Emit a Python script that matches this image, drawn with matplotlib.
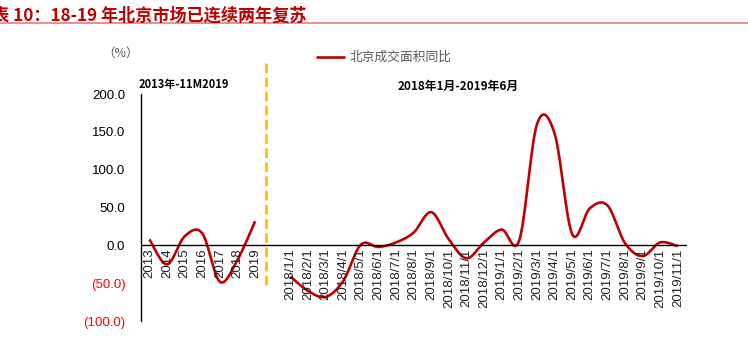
import matplotlib
matplotlib.use("Agg")
import matplotlib.pyplot as plt
import numpy as np
from matplotlib.lines import Line2D
from matplotlib.ticker import FuncFormatter

plt.rcParams["font.family"] = ["Liberation Sans", "Noto Sans CJK SC", "DejaVu Sans"]
CJK = ["Noto Sans CJK SC", "DejaVu Sans"]

# yearly series 2013-2019 (Jan-Nov for 2019), then monthly 2018/1 - 2019/11
years = ["2013", "2014", "2015", "2016", "2017", "2018", "2019"]
year_yoy = [8, -25, 12, 16, -48, -19, 32]
months = ["2018/1/1", "2018/2/1", "2018/3/1", "2018/4/1", "2018/5/1", "2018/6/1",
          "2018/7/1", "2018/8/1", "2018/9/1", "2018/10/1", "2018/11/1", "2018/12/1",
          "2019/1/1", "2019/2/1", "2019/3/1", "2019/4/1", "2019/5/1", "2019/6/1",
          "2019/7/1", "2019/8/1", "2019/9/1", "2019/10/1", "2019/11/1"]
month_yoy = [-41, -60, -68, -47, 1, -2, 4, 17, 44, 8, -17, 4, 21,
             7, 160, 148, 15, 49, 53, 3, -14, 4, -1]

labels = years + [""] + months
RED = "#C00000"


def smooth(x, y, n=30):
    """Excel-style smoothed line: Bezier segments with Catmull-Rom handles."""
    x = np.asarray(x, float)
    y = np.asarray(y, float)
    px = np.concatenate([[x[0]], x, [x[-1]]])
    py = np.concatenate([[y[0]], y, [y[-1]]])
    xs, ys = [], []
    t = np.linspace(0, 1, n)
    for i in range(1, len(x)):
        p0 = np.array([px[i], py[i]])
        p3 = np.array([px[i + 1], py[i + 1]])
        c1 = p0 + (np.array([px[i + 1], py[i + 1]]) - np.array([px[i - 1], py[i - 1]])) / 6
        c2 = p3 - (np.array([px[i + 2], py[i + 2]]) - np.array([px[i], py[i]])) / 6
        b = ((1 - t) ** 3)[:, None] * p0 + (3 * (1 - t) ** 2 * t)[:, None] * c1 \
            + (3 * (1 - t) * t ** 2)[:, None] * c2 + (t ** 3)[:, None] * p3
        xs.append(b[:, 0])
        ys.append(b[:, 1])
    return np.concatenate(xs), np.concatenate(ys)


fig = plt.figure(figsize=(7.48, 3.42), dpi=100)
ax = fig.add_axes([0.188, 0.061, 0.73, 0.664])

x_year = np.arange(len(years))
x_month = np.arange(len(months)) + len(years) + 1

sx, sy = smooth(x_year, year_yoy)
ax.plot(sx, sy, color=RED, lw=1.9, solid_capstyle="butt", label="北京成交面积同比")
sx, sy = smooth(x_month, month_yoy)
ax.plot(sx, sy, color=RED, lw=1.9, solid_capstyle="butt")

ax.set_xlim(-0.5, len(labels) - 0.5)
ax.set_ylim(-100, 200)
ax.set_yticks(np.arange(-100, 201, 50))
ax.yaxis.set_major_formatter(FuncFormatter(
    lambda v, _: f"({abs(v):.1f})" if v < 0 else f"{v:.1f}"))
for lab in ax.get_yticklabels():
    lab.set_color("#FF0000" if lab.get_text().startswith("(") else "black")
ax.tick_params(axis="y", length=0, pad=11, labelsize=9.5)

# category labels sit just under the zero line
ax.set_xticks([])
for i, lab in enumerate(labels):
    ax.text(i, -4, lab, rotation=90, ha="center", va="top", fontsize=9.5, color="#222222")

ax.axhline(0, color="black", lw=1)
for side in ["top", "right", "bottom"]:
    ax.spines[side].set_visible(False)
ax.spines["left"].set_linewidth(1)

# divider between the yearly and monthly parts
ax.plot([6.6, 6.6], [-52, 241], color="#FFC000", lw=2, ls=(0, (3.5, 1.6)), clip_on=False)

ax.text(-0.6, 212, "2013年-11M2019", fontsize=8, fontweight="bold", family=CJK,
        ha="left", va="center")
ax.text(17.5, 210, "2018年1月-2019年6月", fontsize=8.5, fontweight="bold", family=CJK,
        ha="center", va="center")

leg = ax.legend(loc="upper left", bbox_to_anchor=(0.3, 1.24), frameon=False,
                handlelength=2.3, handletextpad=0.3,
                prop={"family": CJK, "size": 9.2})
for t in leg.get_texts():
    t.set_color("#595959")

fig.text(0.137, 0.845, "（%）", fontsize=9, color="#595959", family=CJK,
         ha="left", va="center")
fig.text(-0.033, 0.955, "图表 10：18-19 年北京市场已连续两年复苏", fontsize=12.3,
         fontweight="bold", fontstyle="italic", color=RED, family=CJK,
         ha="left", va="center")
fig.add_artist(Line2D([0, 1], [0.934, 0.934], color="#E87C7C", lw=1.2))

fig.savefig("out.png", dpi=100)
